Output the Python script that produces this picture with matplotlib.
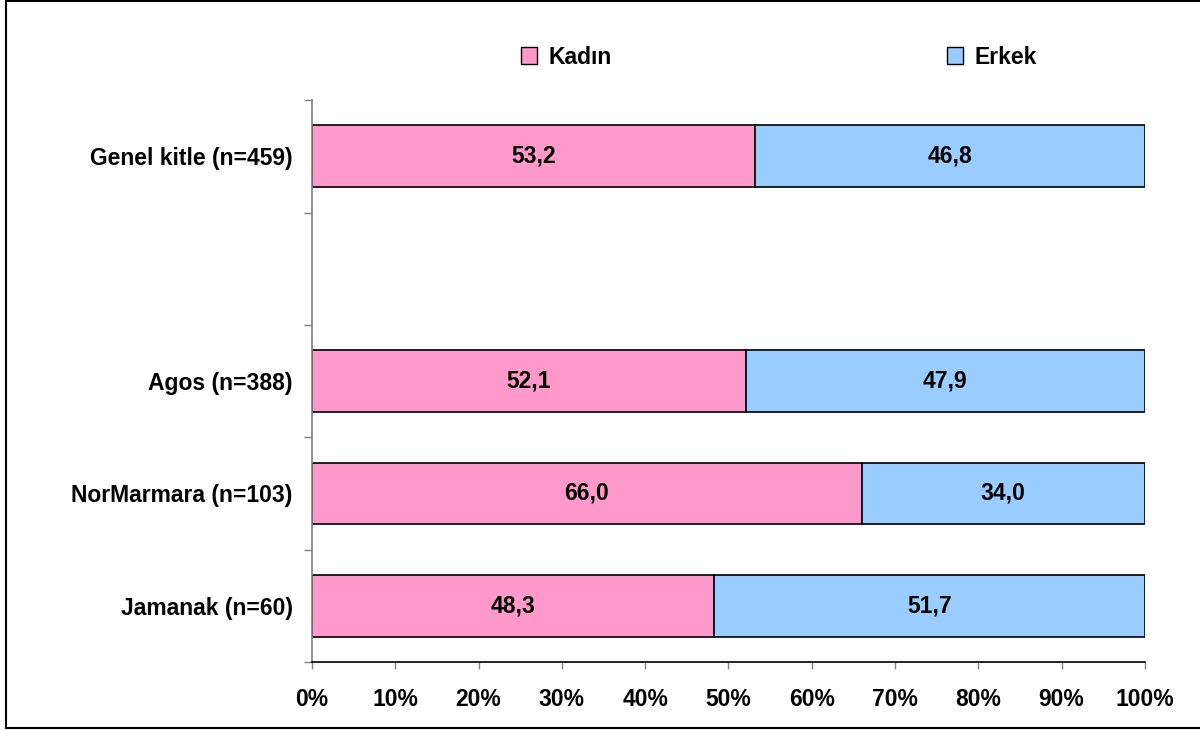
import matplotlib.pyplot as plt
from matplotlib.patches import Patch
from matplotlib.lines import Line2D

# =====================
# DATA
# =====================
categories = ["Genel kitle (n=459)", "", "Agos (n=388)", "NorMarmara (n=103)", "Jamanak (n=60)"]
kadin = [53.2, None, 52.1, 66.0, 48.3]
erkek = [46.8, None, 47.9, 34.0, 51.7]
series_names = ["Kadın", "Erkek"]
x_ticks = [0, 10, 20, 30, 40, 50, 60, 70, 80, 90, 100]

PINK = "#ff99cc"
BLUE = "#99ccff"
FS = 16.5

plt.rcParams['font.family'] = ['Liberation Sans', 'DejaVu Sans']
plt.rcParams['font.weight'] = 'bold'

fig = plt.figure(figsize=(12, 7.31), dpi=100)
ax = fig.add_axes([0.26, 0.0944, 0.694, 0.7686])

# =====================
# BARS
# =====================
for i, (k, e) in enumerate(zip(kadin, erkek)):
    if k is None:
        continue
    ax.barh(i, k, height=0.55, color=PINK, edgecolor="black", linewidth=1.2)
    ax.barh(i, e, left=k, height=0.55, color=BLUE, edgecolor="black", linewidth=1.2)
    ax.text(k / 2, i, f"{k:.1f}".replace(".", ","), ha="center", va="center",
            fontsize=FS, fontweight="bold")
    ax.text(k + e / 2, i, f"{e:.1f}".replace(".", ","), ha="center", va="center",
            fontsize=FS, fontweight="bold")

ax.set_xlim(0, 100)
ax.set_ylim(len(categories) - 0.5, -0.5)

# y ticks: labels at centres, marks at boundaries
ax.set_yticks(range(len(categories)))
ax.set_yticklabels(categories, fontsize=FS, fontweight="bold")
ax.tick_params(axis="y", which="major", length=0, pad=14)
ax.set_yticks([i - 0.5 for i in range(len(categories) + 1)], minor=True)
ax.tick_params(axis="y", which="minor", length=6, width=1, color="#808080", direction="out")

ax.set_xticks(x_ticks)
ax.set_xticklabels([f"{t}%" for t in x_ticks], fontsize=FS, fontweight="bold")
ax.tick_params(axis="x", length=5, width=1, color="#808080", direction="out", pad=14)

for s in ["top", "right"]:
    ax.spines[s].set_visible(False)
ax.spines["left"].set_color("#808080")
ax.spines["bottom"].set_color("black")
ax.spines["left"].set_linewidth(1.2)
ax.spines["bottom"].set_linewidth(1.2)

# =====================
# LEGEND
# =====================
handles = [Patch(facecolor=PINK, edgecolor="black", linewidth=1),
           Patch(facecolor=BLUE, edgecolor="black", linewidth=1)]
fig.legend(handles, series_names, loc="center", bbox_to_anchor=(0.649, 0.922),
           ncol=2, frameon=False, prop={"weight": "bold", "size": FS},
           handlelength=0.7, handleheight=0.7, handletextpad=0.5, columnspacing=14.6)

# figure frame (open on the right)
fig.add_artist(Line2D([0.005, 0.005], [0.004, 0.999], color="black", lw=1.5, transform=fig.transFigure))
fig.add_artist(Line2D([0.005, 1.0], [0.999, 0.999], color="black", lw=1.5, transform=fig.transFigure))
fig.add_artist(Line2D([0.005, 1.0], [0.004, 0.004], color="black", lw=1.5, transform=fig.transFigure))

fig.savefig("out.png", dpi=100)
